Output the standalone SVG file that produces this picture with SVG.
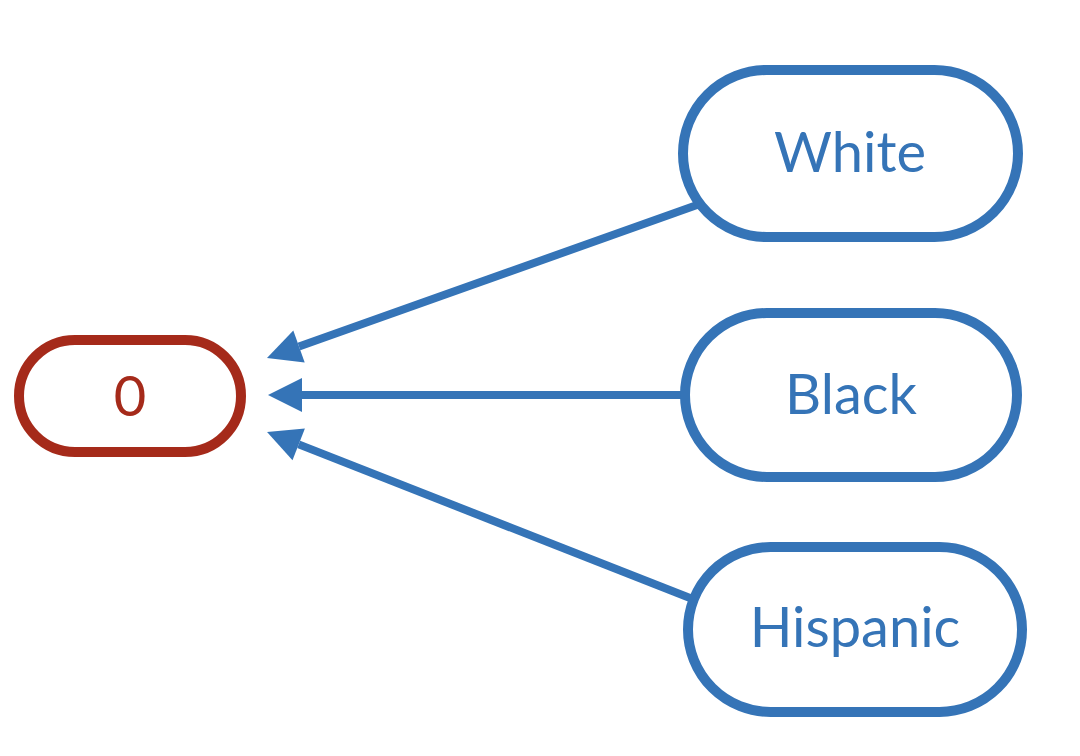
<svg xmlns="http://www.w3.org/2000/svg" width="1080" height="756" viewBox="0 0 1080 756">
<style>
.blue{fill:#fff;stroke:#3574B7;stroke-width:10}
.red{fill:#fff;stroke:#A52A1A;stroke-width:10}
.tb{fill:#3574B7;font-family:Lato,"Open Sans","Liberation Sans",sans-serif;font-size:56px;text-anchor:middle}
.tr{fill:#A52A1A;font-family:Lato,"Open Sans","Liberation Sans",sans-serif;font-size:56px;text-anchor:middle}
.edge{stroke:#3574B7;stroke-width:8;fill:none;marker-end:url(#ah)}
</style>
<defs>
<marker id="ah" markerUnits="userSpaceOnUse" markerWidth="34" markerHeight="34" refX="0" refY="17" orient="auto" overflow="visible">
<path d="M0,0 L34,17 L0,34 z" fill="#3574B7"/>
</marker>
</defs>
<rect width="1080" height="756" fill="#fff"/>
<g id="edges">
<line class="edge" x1="697" y1="205" x2="299" y2="346.6"/>
<line class="edge" x1="683" y1="395" x2="302" y2="395"/>
<line class="edge" x1="690" y1="598" x2="298.7" y2="444.4"/>
</g>
<g id="node-0">
<rect class="red" x="19" y="340" width="222" height="112" rx="56"/>
<text class="tr" x="130" y="416">0</text>
</g>
<g id="node-white">
<rect class="blue" x="683" y="70" width="335" height="167" rx="83.5"/>
<text class="tb" x="850" y="172">White</text>
</g>
<g id="node-black">
<rect class="blue" x="685" y="313" width="332" height="164" rx="82"/>
<text class="tb" x="851" y="414">Black</text>
</g>
<g id="node-hispanic">
<rect class="blue" x="688" y="547" width="334" height="165" rx="82.5"/>
<text class="tb" x="855" y="647">Hispanic</text>
</g>
</svg>
